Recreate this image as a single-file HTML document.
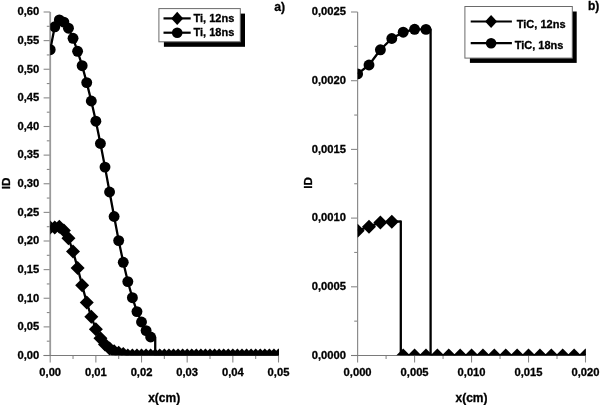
<!DOCTYPE html>
<html><head><meta charset="utf-8"><style>html,body{margin:0;padding:0;background:#fff;width:600px;height:405px;overflow:hidden}svg{display:block;will-change:transform}</style></head><body>
<svg width="600" height="405" viewBox="0 0 600 405">
<style>.t{font-family:"Liberation Sans",sans-serif;font-weight:bold;font-size:11.2px;fill:#000;stroke:#000;stroke-width:0.3px}.l{font-family:"Liberation Sans",sans-serif;font-weight:bold;font-size:12px;fill:#000;stroke:#000;stroke-width:0.3px}</style>
<rect width="600" height="405" fill="#fff"/>
<defs><clipPath id="cl"><rect x="50.2" y="0" width="228.8" height="355.3"/></clipPath><clipPath id="cr"><rect x="357.6" y="0" width="228.3" height="355.3"/></clipPath></defs>
<line x1="50.2" y1="355.5" x2="50.2" y2="362.5" stroke="#8a8a8a" stroke-width="1.1"/>
<line x1="73.03" y1="355.5" x2="73.03" y2="358.9" stroke="#8a8a8a" stroke-width="1.1"/>
<text x="50.2" y="375.6" text-anchor="middle" class="t">0,00</text>
<line x1="95.86" y1="355.5" x2="95.86" y2="362.5" stroke="#8a8a8a" stroke-width="1.1"/>
<line x1="118.69" y1="355.5" x2="118.69" y2="358.9" stroke="#8a8a8a" stroke-width="1.1"/>
<text x="95.86" y="375.6" text-anchor="middle" class="t">0,01</text>
<line x1="141.52" y1="355.5" x2="141.52" y2="362.5" stroke="#8a8a8a" stroke-width="1.1"/>
<line x1="164.35" y1="355.5" x2="164.35" y2="358.9" stroke="#8a8a8a" stroke-width="1.1"/>
<text x="141.52" y="375.6" text-anchor="middle" class="t">0,02</text>
<line x1="187.18" y1="355.5" x2="187.18" y2="362.5" stroke="#8a8a8a" stroke-width="1.1"/>
<line x1="210.01" y1="355.5" x2="210.01" y2="358.9" stroke="#8a8a8a" stroke-width="1.1"/>
<text x="187.18" y="375.6" text-anchor="middle" class="t">0,03</text>
<line x1="232.84" y1="355.5" x2="232.84" y2="362.5" stroke="#8a8a8a" stroke-width="1.1"/>
<line x1="255.67" y1="355.5" x2="255.67" y2="358.9" stroke="#8a8a8a" stroke-width="1.1"/>
<text x="232.84" y="375.6" text-anchor="middle" class="t">0,04</text>
<line x1="278.5" y1="355.5" x2="278.5" y2="362.5" stroke="#8a8a8a" stroke-width="1.1"/>
<text x="278.5" y="375.6" text-anchor="middle" class="t">0,05</text>
<line x1="43.6" y1="355.5" x2="50.2" y2="355.5" stroke="#8a8a8a" stroke-width="1.1"/>
<line x1="46.8" y1="341.19" x2="50.2" y2="341.19" stroke="#8a8a8a" stroke-width="1.1"/>
<text x="39.2" y="358.8" text-anchor="end" class="t">0,00</text>
<line x1="43.6" y1="326.88" x2="50.2" y2="326.88" stroke="#8a8a8a" stroke-width="1.1"/>
<line x1="46.8" y1="312.56" x2="50.2" y2="312.56" stroke="#8a8a8a" stroke-width="1.1"/>
<text x="39.2" y="330.18" text-anchor="end" class="t">0,05</text>
<line x1="43.6" y1="298.25" x2="50.2" y2="298.25" stroke="#8a8a8a" stroke-width="1.1"/>
<line x1="46.8" y1="283.94" x2="50.2" y2="283.94" stroke="#8a8a8a" stroke-width="1.1"/>
<text x="39.2" y="301.55" text-anchor="end" class="t">0,10</text>
<line x1="43.6" y1="269.62" x2="50.2" y2="269.62" stroke="#8a8a8a" stroke-width="1.1"/>
<line x1="46.8" y1="255.31" x2="50.2" y2="255.31" stroke="#8a8a8a" stroke-width="1.1"/>
<text x="39.2" y="272.93" text-anchor="end" class="t">0,15</text>
<line x1="43.6" y1="241" x2="50.2" y2="241" stroke="#8a8a8a" stroke-width="1.1"/>
<line x1="46.8" y1="226.69" x2="50.2" y2="226.69" stroke="#8a8a8a" stroke-width="1.1"/>
<text x="39.2" y="244.3" text-anchor="end" class="t">0,20</text>
<line x1="43.6" y1="212.38" x2="50.2" y2="212.38" stroke="#8a8a8a" stroke-width="1.1"/>
<line x1="46.8" y1="198.06" x2="50.2" y2="198.06" stroke="#8a8a8a" stroke-width="1.1"/>
<text x="39.2" y="215.68" text-anchor="end" class="t">0,25</text>
<line x1="43.6" y1="183.75" x2="50.2" y2="183.75" stroke="#8a8a8a" stroke-width="1.1"/>
<line x1="46.8" y1="169.44" x2="50.2" y2="169.44" stroke="#8a8a8a" stroke-width="1.1"/>
<text x="39.2" y="187.05" text-anchor="end" class="t">0,30</text>
<line x1="43.6" y1="155.12" x2="50.2" y2="155.12" stroke="#8a8a8a" stroke-width="1.1"/>
<line x1="46.8" y1="140.81" x2="50.2" y2="140.81" stroke="#8a8a8a" stroke-width="1.1"/>
<text x="39.2" y="158.43" text-anchor="end" class="t">0,35</text>
<line x1="43.6" y1="126.5" x2="50.2" y2="126.5" stroke="#8a8a8a" stroke-width="1.1"/>
<line x1="46.8" y1="112.19" x2="50.2" y2="112.19" stroke="#8a8a8a" stroke-width="1.1"/>
<text x="39.2" y="129.8" text-anchor="end" class="t">0,40</text>
<line x1="43.6" y1="97.88" x2="50.2" y2="97.88" stroke="#8a8a8a" stroke-width="1.1"/>
<line x1="46.8" y1="83.56" x2="50.2" y2="83.56" stroke="#8a8a8a" stroke-width="1.1"/>
<text x="39.2" y="101.17" text-anchor="end" class="t">0,45</text>
<line x1="43.6" y1="69.25" x2="50.2" y2="69.25" stroke="#8a8a8a" stroke-width="1.1"/>
<line x1="46.8" y1="54.94" x2="50.2" y2="54.94" stroke="#8a8a8a" stroke-width="1.1"/>
<text x="39.2" y="72.55" text-anchor="end" class="t">0,50</text>
<line x1="43.6" y1="40.62" x2="50.2" y2="40.62" stroke="#8a8a8a" stroke-width="1.1"/>
<line x1="46.8" y1="26.31" x2="50.2" y2="26.31" stroke="#8a8a8a" stroke-width="1.1"/>
<text x="39.2" y="43.92" text-anchor="end" class="t">0,55</text>
<line x1="43.6" y1="12" x2="50.2" y2="12" stroke="#8a8a8a" stroke-width="1.1"/>
<text x="39.2" y="15.3" text-anchor="end" class="t">0,60</text>
<line x1="50.2" y1="12" x2="50.2" y2="355.5" stroke="#9a9a9a" stroke-width="1.8"/>
<line x1="43.6" y1="355.5" x2="278.5" y2="355.5" stroke="#7a7a7a" stroke-width="1.2"/>
<line x1="357.6" y1="355.5" x2="357.6" y2="362.5" stroke="#8a8a8a" stroke-width="1.1"/>
<line x1="386.09" y1="355.5" x2="386.09" y2="358.9" stroke="#8a8a8a" stroke-width="1.1"/>
<text x="357.6" y="375.6" text-anchor="middle" class="t">0,000</text>
<line x1="414.58" y1="355.5" x2="414.58" y2="362.5" stroke="#8a8a8a" stroke-width="1.1"/>
<line x1="443.06" y1="355.5" x2="443.06" y2="358.9" stroke="#8a8a8a" stroke-width="1.1"/>
<text x="414.58" y="375.6" text-anchor="middle" class="t">0,005</text>
<line x1="471.55" y1="355.5" x2="471.55" y2="362.5" stroke="#8a8a8a" stroke-width="1.1"/>
<line x1="500.04" y1="355.5" x2="500.04" y2="358.9" stroke="#8a8a8a" stroke-width="1.1"/>
<text x="471.55" y="375.6" text-anchor="middle" class="t">0,010</text>
<line x1="528.52" y1="355.5" x2="528.52" y2="362.5" stroke="#8a8a8a" stroke-width="1.1"/>
<line x1="557.01" y1="355.5" x2="557.01" y2="358.9" stroke="#8a8a8a" stroke-width="1.1"/>
<text x="528.52" y="375.6" text-anchor="middle" class="t">0,015</text>
<line x1="585.5" y1="355.5" x2="585.5" y2="362.5" stroke="#8a8a8a" stroke-width="1.1"/>
<text x="585.5" y="375.6" text-anchor="middle" class="t">0,020</text>
<line x1="351" y1="355.5" x2="357.6" y2="355.5" stroke="#8a8a8a" stroke-width="1.1"/>
<line x1="354.2" y1="321.15" x2="357.6" y2="321.15" stroke="#8a8a8a" stroke-width="1.1"/>
<text x="346" y="358.8" text-anchor="end" class="t">0,0000</text>
<line x1="351" y1="286.8" x2="357.6" y2="286.8" stroke="#8a8a8a" stroke-width="1.1"/>
<line x1="354.2" y1="252.45" x2="357.6" y2="252.45" stroke="#8a8a8a" stroke-width="1.1"/>
<text x="346" y="290.1" text-anchor="end" class="t">0,0005</text>
<line x1="351" y1="218.1" x2="357.6" y2="218.1" stroke="#8a8a8a" stroke-width="1.1"/>
<line x1="354.2" y1="183.75" x2="357.6" y2="183.75" stroke="#8a8a8a" stroke-width="1.1"/>
<text x="346" y="221.4" text-anchor="end" class="t">0,0010</text>
<line x1="351" y1="149.4" x2="357.6" y2="149.4" stroke="#8a8a8a" stroke-width="1.1"/>
<line x1="354.2" y1="115.05" x2="357.6" y2="115.05" stroke="#8a8a8a" stroke-width="1.1"/>
<text x="346" y="152.7" text-anchor="end" class="t">0,0015</text>
<line x1="351" y1="80.7" x2="357.6" y2="80.7" stroke="#8a8a8a" stroke-width="1.1"/>
<line x1="354.2" y1="46.35" x2="357.6" y2="46.35" stroke="#8a8a8a" stroke-width="1.1"/>
<text x="346" y="84" text-anchor="end" class="t">0,0020</text>
<line x1="351" y1="12" x2="357.6" y2="12" stroke="#8a8a8a" stroke-width="1.1"/>
<text x="346" y="15.3" text-anchor="end" class="t">0,0025</text>
<line x1="357.6" y1="12" x2="357.6" y2="355.5" stroke="#8c8c8c" stroke-width="1.2"/>
<line x1="351" y1="355.5" x2="585.5" y2="355.5" stroke="#7a7a7a" stroke-width="1.2"/>
<g clip-path="url(#cl)">
<polyline fill="none" stroke="#000" stroke-width="2.3" stroke-linejoin="round" points="50.2,227.6 54.77,227.4 59.33,226.8 63.9,230.5 68.46,238.3 73.03,251.4 77.6,267.9 82.16,285.2 86.73,302.6 91.29,316.7 95.86,329.2 100.43,338.3 104.99,344.5 109.56,348.5 114.12,351.2 118.69,352.7 123.26,354 127.82,355.5 132.39,355.5 136.95,355.5 141.52,355.5 146.09,355.5 150.65,355.5 155.22,355.5 159.78,355.5 164.35,355.5 168.92,355.5 173.48,355.5 178.05,355.5 182.61,355.5 187.18,355.5 191.75,355.5 196.31,355.5 200.88,355.5 205.44,355.5 210.01,355.5 214.58,355.5 219.14,355.5 223.71,355.5 228.27,355.5 232.84,355.5 237.41,355.5 241.97,355.5 246.54,355.5 251.1,355.5 255.67,355.5 260.24,355.5 264.8,355.5 269.37,355.5 273.93,355.5 278.5,355.5"/>
<path d="M50.2 220.6L57.2 227.6L50.2 234.6L43.2 227.6Z"/>
<path d="M54.77 220.4L61.77 227.4L54.77 234.4L47.77 227.4Z"/>
<path d="M59.33 219.8L66.33 226.8L59.33 233.8L52.33 226.8Z"/>
<path d="M63.9 223.5L70.9 230.5L63.9 237.5L56.9 230.5Z"/>
<path d="M68.46 231.3L75.46 238.3L68.46 245.3L61.46 238.3Z"/>
<path d="M73.03 244.4L80.03 251.4L73.03 258.4L66.03 251.4Z"/>
<path d="M77.6 260.9L84.6 267.9L77.6 274.9L70.6 267.9Z"/>
<path d="M82.16 278.2L89.16 285.2L82.16 292.2L75.16 285.2Z"/>
<path d="M86.73 295.6L93.73 302.6L86.73 309.6L79.73 302.6Z"/>
<path d="M91.29 309.7L98.29 316.7L91.29 323.7L84.29 316.7Z"/>
<path d="M95.86 322.2L102.86 329.2L95.86 336.2L88.86 329.2Z"/>
<path d="M100.43 331.3L107.43 338.3L100.43 345.3L93.43 338.3Z"/>
<path d="M104.99 337.5L111.99 344.5L104.99 351.5L97.99 344.5Z"/>
<path d="M109.56 341.5L116.56 348.5L109.56 355.5L102.56 348.5Z"/>
<path d="M114.12 344.2L121.12 351.2L114.12 358.2L107.12 351.2Z"/>
<path d="M118.69 345.7L125.69 352.7L118.69 359.7L111.69 352.7Z"/>
<path d="M123.26 347L130.26 354L123.26 361L116.26 354Z"/>
<path d="M127.82 348.5L134.82 355.5L127.82 362.5L120.82 355.5Z"/>
<path d="M132.39 348.5L139.39 355.5L132.39 362.5L125.39 355.5Z"/>
<path d="M136.95 348.5L143.95 355.5L136.95 362.5L129.95 355.5Z"/>
<path d="M141.52 348.5L148.52 355.5L141.52 362.5L134.52 355.5Z"/>
<path d="M146.09 348.5L153.09 355.5L146.09 362.5L139.09 355.5Z"/>
<path d="M150.65 348.5L157.65 355.5L150.65 362.5L143.65 355.5Z"/>
<path d="M155.22 348.5L162.22 355.5L155.22 362.5L148.22 355.5Z"/>
<path d="M159.78 348.5L166.78 355.5L159.78 362.5L152.78 355.5Z"/>
<path d="M164.35 348.5L171.35 355.5L164.35 362.5L157.35 355.5Z"/>
<path d="M168.92 348.5L175.92 355.5L168.92 362.5L161.92 355.5Z"/>
<path d="M173.48 348.5L180.48 355.5L173.48 362.5L166.48 355.5Z"/>
<path d="M178.05 348.5L185.05 355.5L178.05 362.5L171.05 355.5Z"/>
<path d="M182.61 348.5L189.61 355.5L182.61 362.5L175.61 355.5Z"/>
<path d="M187.18 348.5L194.18 355.5L187.18 362.5L180.18 355.5Z"/>
<path d="M191.75 348.5L198.75 355.5L191.75 362.5L184.75 355.5Z"/>
<path d="M196.31 348.5L203.31 355.5L196.31 362.5L189.31 355.5Z"/>
<path d="M200.88 348.5L207.88 355.5L200.88 362.5L193.88 355.5Z"/>
<path d="M205.44 348.5L212.44 355.5L205.44 362.5L198.44 355.5Z"/>
<path d="M210.01 348.5L217.01 355.5L210.01 362.5L203.01 355.5Z"/>
<path d="M214.58 348.5L221.58 355.5L214.58 362.5L207.58 355.5Z"/>
<path d="M219.14 348.5L226.14 355.5L219.14 362.5L212.14 355.5Z"/>
<path d="M223.71 348.5L230.71 355.5L223.71 362.5L216.71 355.5Z"/>
<path d="M228.27 348.5L235.27 355.5L228.27 362.5L221.27 355.5Z"/>
<path d="M232.84 348.5L239.84 355.5L232.84 362.5L225.84 355.5Z"/>
<path d="M237.41 348.5L244.41 355.5L237.41 362.5L230.41 355.5Z"/>
<path d="M241.97 348.5L248.97 355.5L241.97 362.5L234.97 355.5Z"/>
<path d="M246.54 348.5L253.54 355.5L246.54 362.5L239.54 355.5Z"/>
<path d="M251.1 348.5L258.1 355.5L251.1 362.5L244.1 355.5Z"/>
<path d="M255.67 348.5L262.67 355.5L255.67 362.5L248.67 355.5Z"/>
<path d="M260.24 348.5L267.24 355.5L260.24 362.5L253.24 355.5Z"/>
<path d="M264.8 348.5L271.8 355.5L264.8 362.5L257.8 355.5Z"/>
<path d="M269.37 348.5L276.37 355.5L269.37 362.5L262.37 355.5Z"/>
<path d="M273.93 348.5L280.93 355.5L273.93 362.5L266.93 355.5Z"/>
<path d="M278.5 348.5L285.5 355.5L278.5 362.5L271.5 355.5Z"/>
<polyline fill="none" stroke="#000" stroke-width="2.3" stroke-linejoin="round" points="50.2,49.7 54.77,26.8 59.33,19.9 63.9,22.1 68.46,28.2 73.03,38.3 77.6,51.3 82.16,65.7 86.73,82.6 91.29,101 95.86,121.2 100.43,143.5 104.99,167.1 109.56,192 114.12,216.5 118.69,240.6 123.26,262.3 127.82,281.6 132.39,297.7 136.95,311.6 141.52,322 146.09,330.6 150.65,337 155.22,337.3 155.22,355.5 281.5,355.5"/>
<circle cx="50.2" cy="49.7" r="5.45"/>
<circle cx="54.77" cy="26.8" r="5.45"/>
<circle cx="59.33" cy="19.9" r="5.45"/>
<circle cx="63.9" cy="22.1" r="5.45"/>
<circle cx="68.46" cy="28.2" r="5.45"/>
<circle cx="73.03" cy="38.3" r="5.45"/>
<circle cx="77.6" cy="51.3" r="5.45"/>
<circle cx="82.16" cy="65.7" r="5.45"/>
<circle cx="86.73" cy="82.6" r="5.45"/>
<circle cx="91.29" cy="101" r="5.45"/>
<circle cx="95.86" cy="121.2" r="5.45"/>
<circle cx="100.43" cy="143.5" r="5.45"/>
<circle cx="104.99" cy="167.1" r="5.45"/>
<circle cx="109.56" cy="192" r="5.45"/>
<circle cx="114.12" cy="216.5" r="5.45"/>
<circle cx="118.69" cy="240.6" r="5.45"/>
<circle cx="123.26" cy="262.3" r="5.45"/>
<circle cx="127.82" cy="281.6" r="5.45"/>
<circle cx="132.39" cy="297.7" r="5.45"/>
<circle cx="136.95" cy="311.6" r="5.45"/>
<circle cx="141.52" cy="322" r="5.45"/>
<circle cx="146.09" cy="330.6" r="5.45"/>
<circle cx="150.65" cy="337" r="5.45"/>
</g>
<g clip-path="url(#cr)">
<polyline fill="none" stroke="#000" stroke-width="2.3" stroke-linejoin="round" points="357.6,230.7 369,226.7 380.39,222.4 391.79,221.7 400.8,221.4 400.8,355.5 588.5,355.5"/>
<path d="M357.6 223.7L364.6 230.7L357.6 237.7L350.6 230.7Z"/>
<path d="M369 219.7L376 226.7L369 233.7L362 226.7Z"/>
<path d="M380.39 215.4L387.39 222.4L380.39 229.4L373.39 222.4Z"/>
<path d="M391.79 214.7L398.79 221.7L391.79 228.7L384.79 221.7Z"/>
<path d="M403.18 348.5L410.18 355.5L403.18 362.5L396.18 355.5Z"/>
<path d="M414.58 348.5L421.58 355.5L414.58 362.5L407.58 355.5Z"/>
<path d="M425.97 348.5L432.97 355.5L425.97 362.5L418.97 355.5Z"/>
<path d="M437.37 348.5L444.37 355.5L437.37 362.5L430.37 355.5Z"/>
<path d="M448.76 348.5L455.76 355.5L448.76 362.5L441.76 355.5Z"/>
<path d="M460.16 348.5L467.16 355.5L460.16 362.5L453.16 355.5Z"/>
<path d="M471.55 348.5L478.55 355.5L471.55 362.5L464.55 355.5Z"/>
<path d="M482.95 348.5L489.95 355.5L482.95 362.5L475.95 355.5Z"/>
<path d="M494.34 348.5L501.34 355.5L494.34 362.5L487.34 355.5Z"/>
<path d="M505.74 348.5L512.74 355.5L505.74 362.5L498.74 355.5Z"/>
<path d="M517.13 348.5L524.13 355.5L517.13 362.5L510.13 355.5Z"/>
<path d="M528.52 348.5L535.52 355.5L528.52 362.5L521.52 355.5Z"/>
<path d="M539.92 348.5L546.92 355.5L539.92 362.5L532.92 355.5Z"/>
<path d="M551.32 348.5L558.32 355.5L551.32 362.5L544.32 355.5Z"/>
<path d="M562.71 348.5L569.71 355.5L562.71 362.5L555.71 355.5Z"/>
<path d="M574.11 348.5L581.11 355.5L574.11 362.5L567.11 355.5Z"/>
<path d="M585.5 348.5L592.5 355.5L585.5 362.5L578.5 355.5Z"/>
<polyline fill="none" stroke="#000" stroke-width="2.3" stroke-linejoin="round" points="357.6,73.9 369,65 380.39,49.8 391.79,38.5 403.18,32.2 414.58,29.3 425.97,29.4 430.6,29.5 430.6,355.5 588.5,355.5"/>
<circle cx="357.6" cy="73.9" r="5.45"/>
<circle cx="369" cy="65" r="5.45"/>
<circle cx="380.39" cy="49.8" r="5.45"/>
<circle cx="391.79" cy="38.5" r="5.45"/>
<circle cx="403.18" cy="32.2" r="5.45"/>
<circle cx="414.58" cy="29.3" r="5.45"/>
<circle cx="425.97" cy="29.4" r="5.45"/>
</g>
<rect x="163.9" y="13.6" width="81.1" height="33.2" fill="#000"/>
<rect x="158.9" y="8.6" width="81.4" height="33.2" fill="#fff" stroke="#6a6a6a" stroke-width="1"/>
<line x1="163.5" y1="18.4" x2="190.7" y2="18.4" stroke="#000" stroke-width="2.2"/>
<path d="M177.2 11.8L183.2 18.4L177.2 25L171.2 18.4Z"/>
<text x="193.5" y="22.3" class="t" style="font-size:11px">Ti, 12ns</text>
<line x1="163.5" y1="32.7" x2="190.7" y2="32.7" stroke="#000" stroke-width="2.2"/>
<circle cx="177.2" cy="32.7" r="5.3"/>
<text x="193.5" y="36" class="t" style="font-size:11px">Ti, 18ns</text>
<rect x="469.9" y="11.5" width="106.8" height="51.4" fill="#000"/>
<rect x="464.9" y="6.5" width="107.4" height="51.6" fill="#fff" stroke="#6a6a6a" stroke-width="1"/>
<line x1="470.7" y1="21.5" x2="511.9" y2="21.5" stroke="#000" stroke-width="2.2"/>
<path d="M491.1 14.9L497.1 21.5L491.1 28.1L485.1 21.5Z"/>
<text x="516.8" y="27.7" class="t" style="font-size:11px">TiC, 12ns</text>
<line x1="470.7" y1="43.2" x2="511.9" y2="43.2" stroke="#000" stroke-width="2.2"/>
<circle cx="491.1" cy="43.2" r="5.3"/>
<text x="514.7" y="49.4" class="t" style="font-size:11px">TiC, 18ns</text>
<text x="274.3" y="10.6" class="l" style="font-size:12.2px">a)</text>
<text x="588" y="10.1" class="l" style="font-size:12px">b)</text>
<text x="164.2" y="401.5" text-anchor="middle" class="l">x(cm)</text>
<text x="471.5" y="401.5" text-anchor="middle" class="l">x(cm)</text>
<text transform="translate(9.6,183.5) rotate(-90)" text-anchor="middle" class="t" style="font-size:11.7px">ID</text>
<text transform="translate(312.4,182.8) rotate(-90)" text-anchor="middle" class="t" style="font-size:11.7px">ID</text>
</svg>
</body></html>
